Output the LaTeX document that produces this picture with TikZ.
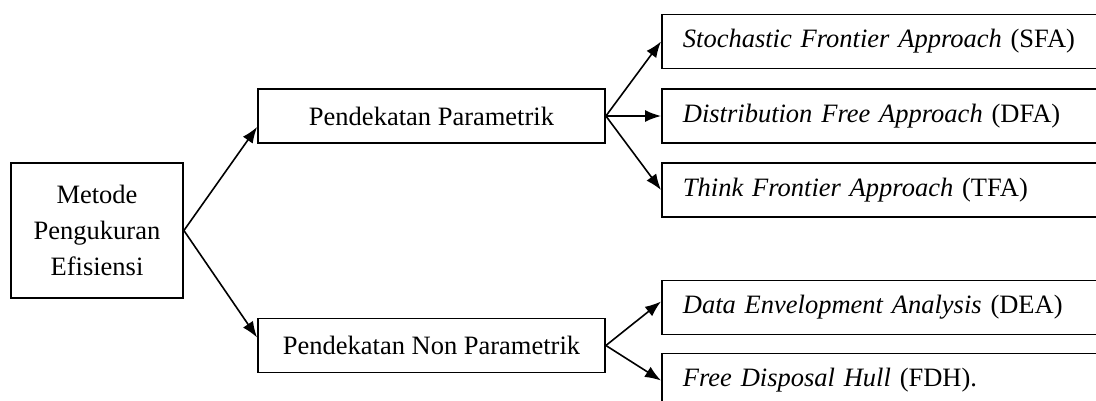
\documentclass[tikz,border=0pt]{standalone}
\usepackage{fontspec}
\setmainfont{Liberation Serif}
\usetikzlibrary{arrows.meta,positioning}

\begin{document}
\begin{tikzpicture}[
    x=1pt, y=-1pt,
    box/.style={rectangle, draw=black, line width=1.8pt, inner sep=0pt,
                font=\fontsize{26.5}{36}\selectfont},
    midbox/.style={box, minimum width=347pt, minimum height=54pt},
    leafbox/.style={box, anchor=west, minimum height=54pt, text width=407pt,
                    inner xsep=21pt, align=left},
    link/.style={-{Latex[length=16pt,width=12pt]}, line width=1.6pt}
]
\clip (0,0) rectangle (1096,400);

\node[box, minimum width=172pt, minimum height=135pt, align=center] (metode) at (97,230.5) {Metode\\Pengukuran\\Efisiensi};
\node[midbox] (param) at (431.5,116) {Pendekatan Parametrik};
\node[midbox] (nonparam) at (431.5,345.5) {Pendekatan Non Parametrik};

\node[leafbox] (sfa) at (661,41.5) {\textit{Stochastic Frontier Approach} (SFA)};
\node[leafbox] (dfa) at (661,116) {\textit{Distribution Free Approach} (DFA)};
\node[leafbox] (tfa) at (661,190) {\textit{Think Frontier Approach} (TFA)};
\node[leafbox] (dea) at (661,307.5) {\textit{Data Envelopment Analysis} (DEA)};
\node[leafbox] (fdh) at (661,380.5) {\textit{Free Disposal Hull} (FDH).};

% Arrows
\draw[link] (metode.east) -- ([yshift=-11pt]param.west);
\draw[link] (metode.east) -- ([yshift=8pt]nonparam.west);
\draw[link] (param.east) -- (sfa.west);
\draw[link] (param.east) -- (dfa.west);
\draw[link] (param.east) -- (tfa.west);
\draw[link] (nonparam.east) -- ([yshift=6pt]dea.west);
\draw[link] (nonparam.east) -- (fdh.west);

\end{tikzpicture}
\end{document}
